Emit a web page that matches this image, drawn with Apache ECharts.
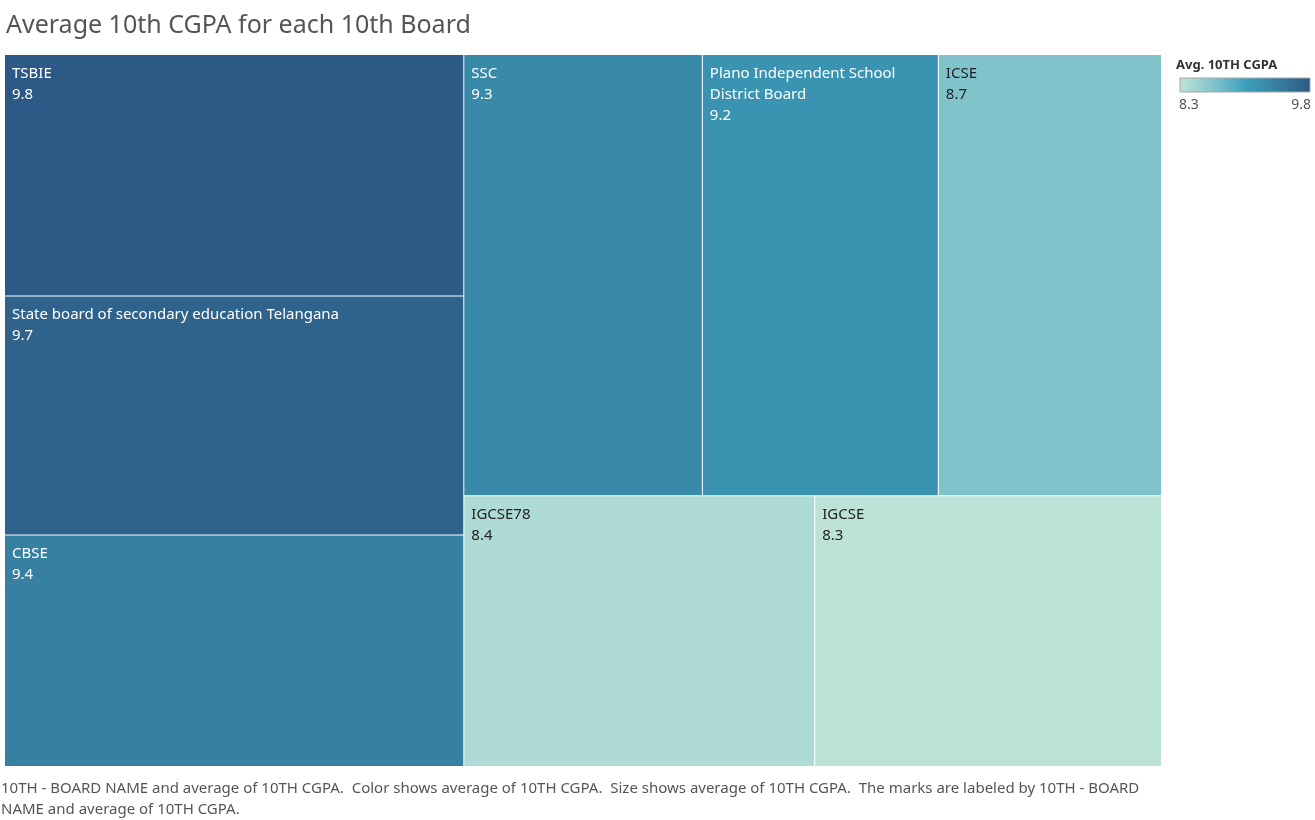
<!DOCTYPE html>
<html>
<head>
<meta charset="utf-8">
<script src="https://cdn.jsdelivr.net/npm/echarts@6/dist/echarts.min.js"></script>
<style>
html,body{margin:0;padding:0;background:#fff;}
#chart{width:1315px;height:820px;}
</style>
</head>
<body>
<div id="chart"></div>
<script>
// ---- data ----
var boards = ['TSBIE', 'State board of secondary education Telangana', 'CBSE', 'SSC',
  'Plano Independent School District Board', 'ICSE', 'IGCSE78', 'IGCSE'];
var avgCgpa = [9.8, 9.7, 9.4, 9.3, 9.2, 8.7, 8.4, 8.3];
var legendTitle = 'Avg. 10TH CGPA';
var legendMin = 8.3;
var legendMax = 9.8;
var titleText = 'Average 10th CGPA for each 10th Board';
var footerText = '10TH - BOARD NAME and average of 10TH CGPA.  Color shows average of 10TH CGPA.  Size shows average of 10TH CGPA.  The marks are labeled by 10TH - BOARD\nNAME and average of 10TH CGPA.';

// ---- style ----
var palette = ['#bde3d9', '#85c5cc', '#3ca1bc', '#377ea0', '#2c5985'];
var FONT = '"Noto Sans", "Open Sans", sans-serif';

var chart = echarts.init(document.getElementById('chart'), null, {renderer: 'canvas'});

var seriesData = boards.map(function (b, i) {
  var v = avgCgpa[i];
  return {
    name: b,
    value: v,
    label: { color: v < 9 ? '#222222' : '#ffffff' }
  };
});

var gradStops = palette.map(function (c, i) {
  return { offset: i / (palette.length - 1), color: c };
});

chart.setOption({
  backgroundColor: '#ffffff',
  animation: false,
  title: {
    text: titleText,
    left: 1,
    top: 8,
    textStyle: { fontFamily: FONT, fontSize: 25, fontWeight: 'normal', color: '#555555' }
  },
  series: [{
    type: 'treemap',
    left: 5,
    top: 55,
    width: 1156,
    height: 711,
    roam: false,
    nodeClick: false,
    breadcrumb: { show: false },
    squareRatio: 0.5 * (1 + Math.sqrt(5)),
    visualMin: legendMin,
    visualMax: legendMax,
    colorMappingBy: 'value',
    color: palette,
    itemStyle: { borderWidth: 0, gapWidth: 1, borderColor: '#ffffff' },
    levels: [{
      color: palette,
      colorMappingBy: 'value',
      visualMin: legendMin,
      visualMax: legendMax,
      itemStyle: { gapWidth: 1, borderWidth: 0, borderColor: '#ffffff' }
    }],
    label: {
      show: true,
      position: 'insideTopLeft',
      padding: [8, 7, 7, 7],
      fontFamily: FONT,
      fontSize: 15,
      lineHeight: 21,
      overflow: 'break',
      formatter: function (p) { return p.name + '\n' + p.value; }
    },
    upperLabel: { show: false },
    data: seriesData
  }],
  graphic: [
    {
      type: 'text',
      left: 1176,
      top: 59,
      style: { text: legendTitle, font: 'bold 13px ' + FONT, fill: '#333333' }
    },
    {
      type: 'rect',
      shape: { x: 1180, y: 78, width: 130, height: 14 },
      style: {
        fill: new echarts.graphic.LinearGradient(0, 0, 1, 0, gradStops),
        stroke: '#a6a6a6',
        lineWidth: 1
      }
    },
    {
      type: 'text',
      left: 1179,
      top: 98,
      style: { text: String(legendMin), font: '14px ' + FONT, fill: '#555555' }
    },
    {
      type: 'text',
      right: 4,
      top: 98,
      style: { text: String(legendMax), font: '14px ' + FONT, fill: '#555555', textAlign: 'right' }
    },
    {
      type: 'text',
      left: 1,
      top: 778,
      style: { text: footerText, font: '15px ' + FONT, fill: '#555555', lineHeight: 21 }
    }
  ]
});
</script>
</body>
</html>
